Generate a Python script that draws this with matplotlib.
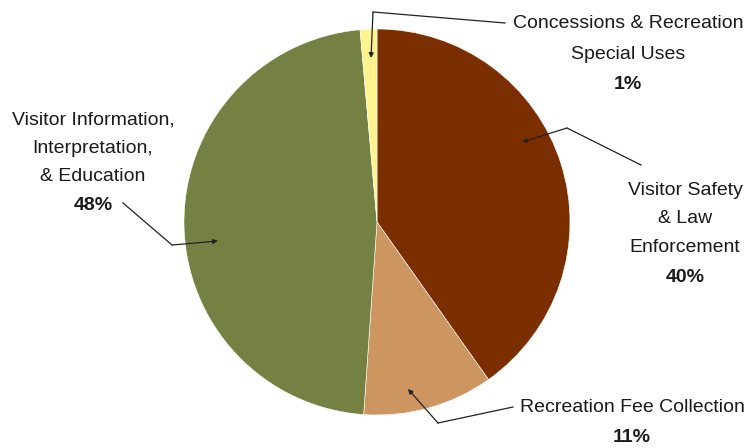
import matplotlib
matplotlib.use("Agg")
import matplotlib.pyplot as plt

# data
categories = ["Visitor Safety\n& Law\nEnforcement",
              "Recreation Fee Collection",
              "Visitor Information,\nInterpretation,\n& Education",
              "Concessions & Recreation\nSpecial Uses"]
values = [40.2, 10.9, 47.5, 1.4]
colors = ["#7B2F00", "#CD955F", "#758142", "#FFF38F"]

plt.rcParams['font.family'] = ['Liberation Sans', 'DejaVu Sans']

W, H = 748, 448
fig = plt.figure(figsize=(W / 100, H / 100), dpi=100)
ax = fig.add_axes([0, 0, 1, 1])

ax.pie(values, colors=colors, startangle=90, counterclock=False,
       center=(377, H - 222), radius=193, frame=True,
       wedgeprops=dict(edgecolor='white', linewidth=0.4))
ax.set_xlim(0, W)
ax.set_ylim(0, H)
ax.set_aspect('equal')
ax.axis('off')

def y(p):
    return H - p

# label text: center x and y of each line (pixels from top)
label_x = [685, 632, 93, 628]
label_lines_y = [[190, 218, 247, 277], [408, 438], [120, 148, 176, 205], [23, 54, 84]]
pcts = ["%.0f%%" % v for v in values]
for cx, ly, name, pct in zip(label_x, label_lines_y, categories, pcts):
    lines = name.split("\n")
    for txt, py in zip(lines, ly[:-1]):
        ax.text(cx, y(py), txt, ha='center', va='center', fontsize=14,
                color='#1a1a1a')
    ax.text(cx, y(ly[-1]), pct, ha='center', va='center', fontsize=14,
            fontweight='bold', color='#1a1a1a')

# leader lines (polyline, arrow on last segment)
leaders = [
    [(641, 165), (567, 128), (522, 142)],
    [(513, 407), (438, 423), (408, 389)],
    [(123, 203), (172, 245), (218, 241)],
    [(505, 23), (373, 12), (371, 58)],
]
for pts in leaders:
    xs = [p[0] for p in pts[:-1]]
    ys = [y(p[1]) for p in pts[:-1]]
    ax.plot(xs, ys, color='#222222', lw=0.9)
    ax.annotate("", xy=(pts[-1][0], y(pts[-1][1])),
                xytext=(pts[-2][0], y(pts[-2][1])),
                arrowprops=dict(arrowstyle='-|>', color='#222222', lw=0.9,
                                mutation_scale=7, shrinkA=0, shrinkB=0))

fig.savefig("out.png", dpi=100)
